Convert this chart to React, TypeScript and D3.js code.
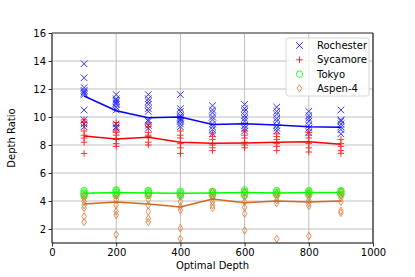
import React, { useEffect, useRef } from 'react';
import * as d3 from 'd3';

const depths = [100, 200, 300, 400, 500, 600, 700, 800, 900];

const rochesterPoints = [
  [13.8, 12.8, 12.1, 11.9, 11.8, 11.7, 11.6, 10.5, 9.8, 9.5, 9.3],
  [11.6, 11.3, 11.2, 11.1, 11.0, 10.9, 10.7, 10.5, 9.5, 9.3, 9.2],
  [11.6, 11.3, 11.1, 10.9, 10.6, 10.4, 9.8, 9.7, 9.4, 9.2],
  [11.6, 10.6, 10.4, 10.1, 10.0, 9.9, 9.8, 9.7, 9.5, 9.3],
  [10.8, 10.5, 10.3, 10.0, 9.8, 9.5, 9.3, 9.1, 8.8],
  [10.9, 10.6, 10.4, 10.1, 9.9, 9.7, 9.4, 9.2, 9.0],
  [10.7, 10.4, 10.2, 9.9, 9.7, 9.4, 9.2, 9.0],
  [10.4, 10.1, 9.9, 9.7, 9.4, 9.2, 8.9],
  [10.5, 9.8, 9.7, 9.5, 9.3, 9.1, 8.8],
];
const rochesterMean = [11.5, 10.45, 9.95, 10.0, 9.47, 9.52, 9.43, 9.3, 9.26];

const sycamorePoints = [
  [9.8, 9.6, 9.4, 9.0, 8.7, 8.5, 8.2, 7.4],
  [9.6, 9.4, 9.0, 8.9, 8.7, 8.4, 8.1, 7.9],
  [9.5, 9.3, 8.9, 8.7, 8.6, 8.2, 8.0],
  [9.0, 8.7, 8.5, 8.1, 7.8, 7.4],
  [8.8, 8.6, 8.4, 8.0, 7.8, 7.6],
  [9.0, 8.7, 8.5, 8.2, 8.0, 7.8],
  [8.8, 8.6, 8.4, 8.1, 7.9, 7.6],
  [8.9, 8.7, 8.5, 8.1, 7.8, 7.5],
  [8.4, 8.1, 7.9, 7.6, 7.4],
];
const sycamoreMean = [8.64, 8.43, 8.55, 8.19, 8.12, 8.14, 8.19, 8.24, 8.05];

const tokyoPoints = [
  [4.35, 4.45, 4.5, 4.55, 4.65, 4.75],
  [4.4, 4.5, 4.6, 4.65, 4.75, 4.8],
  [4.4, 4.5, 4.55, 4.6, 4.7, 4.75],
  [4.35, 4.45, 4.55, 4.6, 4.7],
  [4.4, 4.5, 4.55, 4.65, 4.7],
  [4.4, 4.5, 4.6, 4.7, 4.8],
  [4.45, 4.5, 4.6, 4.65, 4.75],
  [4.45, 4.55, 4.6, 4.7, 4.75],
  [4.45, 4.5, 4.6, 4.7, 4.75],
];
const tokyoMean = [4.55, 4.6, 4.58, 4.55, 4.57, 4.6, 4.58, 4.6, 4.6];

const aspenPoints = [
  [4.4, 4.2, 3.95, 3.7, 3.5, 2.9, 2.5],
  [4.4, 4.1, 3.7, 3.25, 3.0, 1.6],
  [4.4, 4.1, 3.7, 3.25, 2.75, 2.5],
  [4.4, 3.95, 3.6, 3.35, 2.05, 1.3],
  [4.65, 4.4, 4.2, 3.95, 3.7, 3.5],
  [4.65, 4.3, 3.95, 3.55, 3.1, 1.9],
  [4.55, 4.3, 4.05, 3.85, 1.3],
  [4.55, 4.3, 4.05, 3.85, 3.65, 1.5],
  [4.65, 4.4, 4.2, 3.95, 3.3, 3.15],
];
const aspenMean = [3.79, 3.93, 3.79, 3.57, 4.14, 3.88, 4.0, 3.93, 4.0];

const xTicks = [0, 200, 400, 600, 800, 1000];
const yTicks = [2, 4, 6, 8, 10, 12, 14, 16];

type Marker = 'x' | 'plus' | 'circle' | 'diamond';

const series = [
  { name: 'Rochester', points: rochesterPoints, mean: rochesterMean, color: '#0000ff', line: '#0000ff', marker: 'x' as Marker },
  { name: 'Sycamore', points: sycamorePoints, mean: sycamoreMean, color: '#ff0000', line: '#ff0000', marker: 'plus' as Marker },
  { name: 'Tokyo', points: tokyoPoints, mean: tokyoMean, color: '#00ff00', line: '#00ff00', marker: 'circle' as Marker },
  { name: 'Aspen-4', points: aspenPoints, mean: aspenMean, color: '#e0762c', line: '#d2691e', marker: 'diamond' as Marker },
];

function markerPath(m: Marker): string {
  const r = 3.3;
  if (m === 'x') return `M${-r},${-r}L${r},${r}M${-r},${r}L${r},${-r}`;
  if (m === 'plus') return `M${-r},0L${r},0M0,${-r}L0,${r}`;
  if (m === 'diamond') return `M0,-3.7L2.3,0L0,3.7L-2.3,0Z`;
  return '';
}

const App: React.FC = () => {
  const svgRef = useRef<SVGSVGElement>(null);

  useEffect(() => {
    if (!svgRef.current) return;
    const root = d3.select(svgRef.current);
    root.selectAll('*').remove();

    const left = 52, right = 373, top = 33, bottom = 243;
    const x = d3.scaleLinear().domain([0, 1000]).range([left, right]);
    const y = d3.scaleLinear().domain([1, 16]).range([bottom, top]);

    const font = 'DejaVu Sans, sans-serif';

    // grid
    const grid = root.append('g').attr('stroke', '#b0b0b0').attr('stroke-width', 0.8);
    xTicks.forEach(t => {
      grid.append('line').attr('x1', x(t)).attr('x2', x(t)).attr('y1', top).attr('y2', bottom);
    });
    yTicks.forEach(t => {
      grid.append('line').attr('x1', left).attr('x2', right).attr('y1', y(t)).attr('y2', y(t));
    });

    // scatter markers
    series.forEach(s => {
      const g = root.append('g').attr('opacity', 0.8);
      s.points.forEach((vals, i) => {
        vals.forEach(v => {
          const cx = x(depths[i]);
          const cy = y(v);
          if (s.marker === 'circle') {
            g.append('circle').attr('cx', cx).attr('cy', cy).attr('r', 3.2)
              .attr('fill', 'none').attr('stroke', s.color).attr('stroke-width', 1);
          } else {
            g.append('path').attr('d', markerPath(s.marker))
              .attr('transform', `translate(${cx},${cy})`)
              .attr('fill', 'none').attr('stroke', s.color).attr('stroke-width', 1);
          }
        });
      });
    });

    // mean lines
    const line = d3.line<number>().x((d, i) => x(depths[i])).y(d => y(d));
    series.forEach(s => {
      root.append('path').datum(s.mean)
        .attr('fill', 'none')
        .attr('stroke', s.line)
        .attr('stroke-width', 1.5)
        .attr('d', line);
    });

    // spines
    root.append('line').attr('x1', left).attr('x2', left).attr('y1', top).attr('y2', bottom)
      .attr('stroke', '#555').attr('stroke-width', 1.5);
    root.append('line').attr('x1', left).attr('x2', right).attr('y1', top).attr('y2', top)
      .attr('stroke', '#777').attr('stroke-width', 1.5);
    root.append('line').attr('x1', right).attr('x2', right).attr('y1', top).attr('y2', bottom)
      .attr('stroke', '#000').attr('stroke-width', 1);
    root.append('line').attr('x1', left).attr('x2', right).attr('y1', bottom).attr('y2', bottom)
      .attr('stroke', '#000').attr('stroke-width', 1);

    // axes
    const xAxis = root.append('g')
      .attr('transform', `translate(0,${bottom})`)
      .call(d3.axisBottom(x).tickValues(xTicks).tickSize(3.5).tickPadding(2.5).tickFormat(d3.format('d')));
    xAxis.select('.domain').remove();

    const yAxis = root.append('g')
      .attr('transform', `translate(${left},0)`)
      .call(d3.axisLeft(y).tickValues(yTicks).tickSize(3.5).tickPadding(2.5).tickFormat(d3.format('d')));
    yAxis.select('.domain').remove();

    [xAxis, yAxis].forEach(a => {
      a.selectAll('text').attr('font-family', font).attr('font-size', 10).attr('fill', '#000');
      a.selectAll('line').attr('stroke', '#000').attr('stroke-width', 0.8);
    });

    root.append('text')
      .attr('x', (left + right) / 2)
      .attr('y', 269)
      .attr('text-anchor', 'middle')
      .attr('font-family', font)
      .attr('font-size', 10)
      .text('Optimal Depth');

    root.append('text')
      .attr('transform', `translate(15,${(top + bottom) / 2}) rotate(-90)`)
      .attr('text-anchor', 'middle')
      .attr('font-family', font)
      .attr('font-size', 10)
      .text('Depth Ratio');

    // legend
    const legend = root.append('g');
    legend.append('rect')
      .attr('x', 286).attr('y', 38).attr('width', 83).attr('height', 58)
      .attr('rx', 2.5)
      .attr('fill', 'white').attr('fill-opacity', 0.8)
      .attr('stroke', '#cccccc').attr('stroke-width', 0.8);

    series.forEach((s, i) => {
      const cy = 45.5 + i * 14.3;
      const mx = 299.5;
      if (s.marker === 'circle') {
        legend.append('circle').attr('cx', mx).attr('cy', cy).attr('r', 3.2)
          .attr('fill', 'none').attr('stroke', s.color).attr('stroke-width', 1).attr('opacity', 0.8);
      } else {
        legend.append('path').attr('d', markerPath(s.marker))
          .attr('transform', `translate(${mx},${cy})`)
          .attr('fill', 'none').attr('stroke', s.color).attr('stroke-width', 1).attr('opacity', 0.8);
      }
      legend.append('text')
        .attr('x', 317)
        .attr('y', cy)
        .attr('dy', '0.35em')
        .attr('font-family', font)
        .attr('font-size', 10)
        .text(s.name);
    });
  }, []);

  return (
    <svg
      ref={svgRef}
      width={415}
      height={277}
      style={{ position: 'absolute', left: 0, top: 0, background: 'white' }}
    />
  );
};

export default App;
